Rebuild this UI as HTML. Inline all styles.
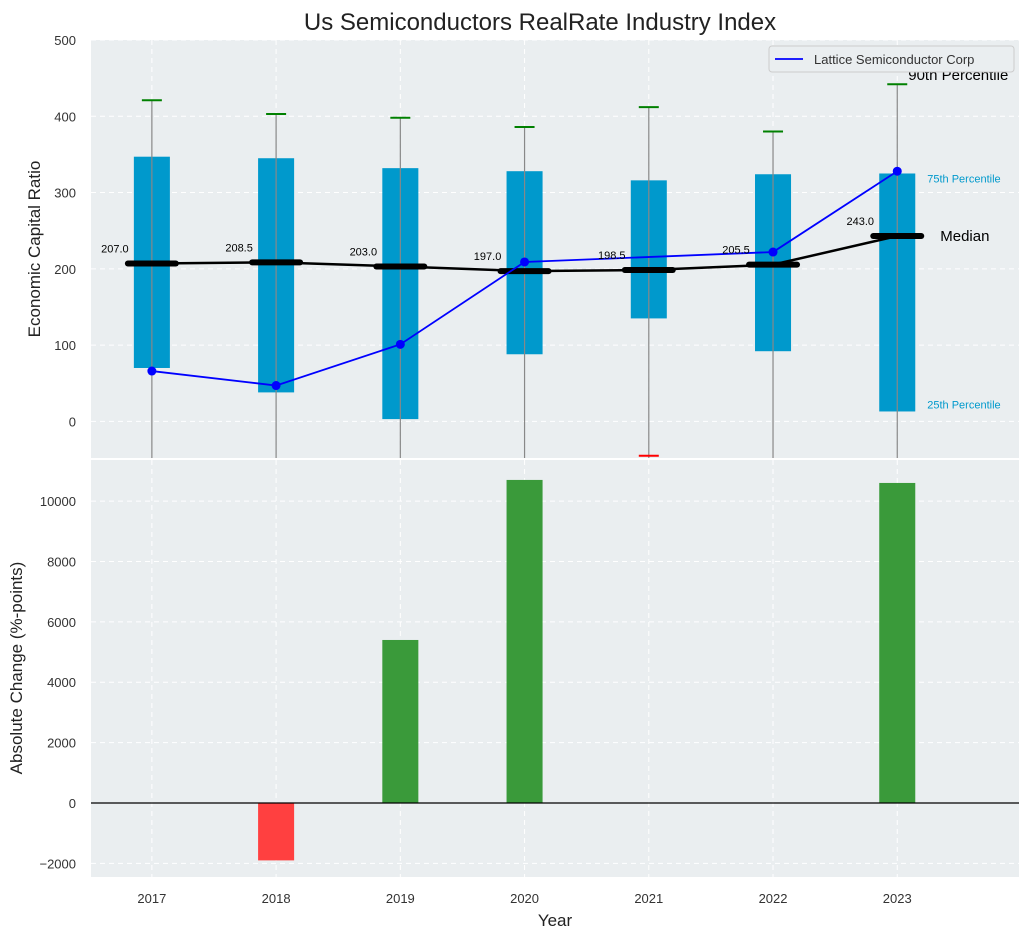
<!DOCTYPE html>
<html><head><meta charset="utf-8"><style>
body{margin:0;background:#fff;}
svg text{font-family:"Liberation Sans",sans-serif;}
</style></head><body>
<svg id="chart" width="1030" height="940" xmlns="http://www.w3.org/2000/svg">
<text x="540" y="30" text-anchor="middle" font-size="24" fill="#222">Us Semiconductors RealRate Industry Index</text>
<g id="topg"></g><g id="botg"></g>
</svg>
<script>
const years=[2017,2018,2019,2020,2021,2022,2023];
const p25=[70,38,3,88,135,92,13];
const p75=[347,345,332,328,316,324,325];
const p90=[421,403,398,386,412,380,442];
const medians=[207,208.5,203,197,198.5,205.5,243];
const p10=[null,null,null,null,-45,null,null];
const lattice=[66,47,101,209,null,222,328];
const changes=[0,-1900,5400,10700,0,0,10600];
const topTicks=[0,100,200,300,400,500];
const botTicks=[-2000,0,2000,4000,6000,8000,10000];

const NS='http://www.w3.org/2000/svg';
const L=91,R=1019;
const x=v=>L+(v-2016.51)/(2023.98-2016.51)*(R-L);
const T0=40,T1=458,ty=v=>T0+(500-v)/(500+48)*(T1-T0);
const B0=460,B1=877,by=v=>B0+(11360-v)/(11360+2450)*(B1-B0);
function mk(p,tag,a,txt){const e=document.createElementNS(NS,tag);for(const k in a)e.setAttribute(k,a[k]);if(txt!=null)e.textContent=txt;p.appendChild(e);return e;}
const tp=document.getElementById('topg'),bt=document.getElementById('botg');
const BG='#eaeef0';
mk(tp,'rect',{x:L,y:T0,width:R-L,height:T1-T0,fill:BG});
mk(bt,'rect',{x:L,y:B0,width:R-L,height:B1-B0,fill:BG});
const cp=mk(tp,'clipPath',{id:'ct'});mk(cp,'rect',{x:L,y:T0,width:R-L,height:T1-T0});
const tg=mk(tp,'g',{'clip-path':'url(#ct)'});
years.forEach(yr=>{
 let g=mk(tg,'line',{x1:x(yr),x2:x(yr),y1:T0,y2:T1,stroke:'#fff','stroke-dasharray':'5,4'});
 
 g=mk(bt,'line',{x1:x(yr),x2:x(yr),y1:B0,y2:B1,stroke:'#fff','stroke-dasharray':'5,4'});
 
 const t=mk(bt,'text',{x:x(yr),y:903,'text-anchor':'middle','font-size':13,fill:'#333'},yr);
 
});
topTicks.forEach(v=>{
 const g=mk(tg,'line',{x1:L,x2:R,y1:ty(v),y2:ty(v),stroke:'#fff','stroke-dasharray':'5,4'});
 
 const t=mk(tp,'text',{x:76,y:ty(v)+5,'text-anchor':'end','font-size':13,fill:'#333'},v);
 
});
botTicks.forEach(v=>{
 const g=mk(bt,'line',{x1:L,x2:R,y1:by(v),y2:by(v),stroke:'#fff','stroke-dasharray':'5,4'});
 
 const t=mk(bt,'text',{x:76,y:by(v)+5,'text-anchor':'end','font-size':13,fill:'#333'},v<0?'\u2212'+(-v):v);
 
});
const bw=0.29*(x(1)-x(0));
years.forEach((yr,i)=>{
 const r=mk(tg,'rect',{x:x(yr)-bw/2,y:ty(p75[i]),width:bw,height:ty(p25[i])-ty(p75[i]),fill:'#0099cc'});
 
});
years.forEach((yr,i)=>{
 const w=mk(tg,'line',{x1:x(yr),x2:x(yr),y1:ty(p90[i]),y2:T1+5,stroke:'#888','stroke-width':1.2});
 
 const c=mk(tg,'line',{x1:x(yr)-10,x2:x(yr)+10,y1:ty(p90[i]),y2:ty(p90[i]),stroke:'green','stroke-width':2});
 
 if(p10[i]!=null){const c2=mk(tg,'line',{x1:x(yr)-10,x2:x(yr)+10,y1:ty(p10[i]),y2:ty(p10[i]),stroke:'red','stroke-width':2});
 }
});
const mp=mk(tg,'polyline',{points:years.map((yr,i)=>x(yr)+','+ty(medians[i])).join(' '),fill:'none',stroke:'#000','stroke-width':2.5});

years.forEach((yr,i)=>{
 const m=mk(tg,'line',{x1:x(yr)-24,x2:x(yr)+24,y1:ty(medians[i]),y2:ty(medians[i]),stroke:'#000','stroke-width':6,'stroke-linecap':'round'});
 
 const t=mk(tp,'text',{x:x(yr)-37,y:ty(medians[i])-11,'text-anchor':'middle','font-size':11,fill:'#000'},medians[i].toFixed(1));
 
});
const pts=years.map((yr,i)=>lattice[i]==null?null:[x(yr),ty(lattice[i])]).filter(p=>p);
const lp=mk(tg,'polyline',{points:pts.map(p=>p.join(',')).join(' '),fill:'none',stroke:'#0000ff','stroke-width':1.8});

pts.forEach(p=>{const c=mk(tg,'circle',{cx:p[0],cy:p[1],r:4.5,fill:'#0000ff'});
 });
const last=years.length-1,xl=x(years[last]);
let a=mk(tp,'text',{x:xl+43,y:ty(medians[last])+5,'font-size':15,fill:'#000'},'Median');
a=mk(tp,'text',{x:xl+30,y:ty(p75[last])+9,'font-size':11,fill:'#0099cc'},'75th Percentile');
a=mk(tp,'text',{x:xl+30,y:ty(p25[last])-3,'font-size':11,fill:'#0099cc'},'25th Percentile');
a=mk(tp,'text',{x:xl+11,y:ty(p90[last])-4,'font-size':15,fill:'#000'},'90th Percentile');
const lg=mk(tp,'g',{});
mk(lg,'rect',{x:769,y:46,width:245,height:26,rx:3,fill:'#eaeef0',stroke:'#ccc'});
mk(lg,'line',{x1:775,x2:803,y1:59,y2:59,stroke:'#0000ff','stroke-width':1.8});
mk(lg,'text',{x:814,y:64,'font-size':13,fill:'#333'},'Lattice Semiconductor Corp');
let at=mk(tp,'text',{x:40,y:249,'text-anchor':'middle','font-size':17,fill:'#222',transform:'rotate(-90 40 249)'},'Economic Capital Ratio');

const cb=mk(bt,'clipPath',{id:'cb'});mk(cb,'rect',{x:L,y:B0,width:R-L,height:B1-B0});
const bg=mk(bt,'g',{'clip-path':'url(#cb)'});
years.forEach((yr,i)=>{
 const v=changes[i];if(!v)return;
 const r=mk(bg,'rect',{x:x(yr)-bw/2,y:Math.min(by(v),by(0)),width:bw,height:Math.abs(by(v)-by(0)),fill:v>0?'#3a9a3a':'#ff4040'});
 
});
const zl=mk(bt,'line',{x1:L,x2:R,y1:by(0),y2:by(0),stroke:'#000','stroke-width':1.2});

at=mk(bt,'text',{x:22,y:668,'text-anchor':'middle','font-size':17,fill:'#222',transform:'rotate(-90 22 668)'},'Absolute Change (%-points)');

at=mk(bt,'text',{x:555,y:926,'text-anchor':'middle','font-size':17,fill:'#222'},'Year');

</script>
</body></html>
